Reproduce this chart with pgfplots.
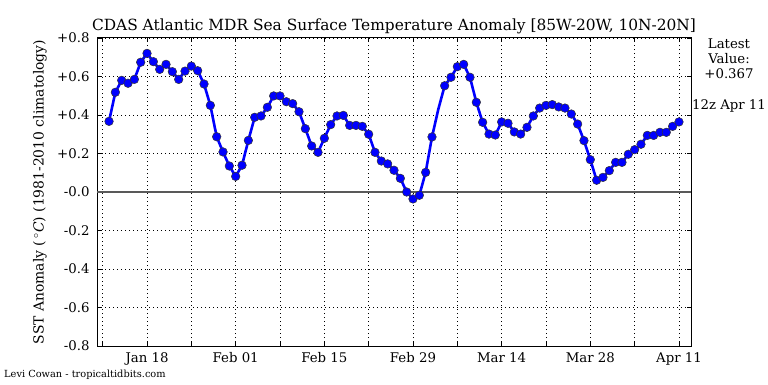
\documentclass[border=0pt]{standalone}
\usepackage{fontspec}
\setmainfont{DejaVu Serif}
\usepackage{pgfplots}
\pgfplotsset{compat=1.18}
\usepackage{pgfplotstable}

\pgfplotstableread{
day val
12 0.367
13 0.518
14 0.580
15 0.565
16 0.585
17 0.674
18 0.720
19 0.677
20 0.637
21 0.663
22 0.625
23 0.585
24 0.628
25 0.654
26 0.630
27 0.561
28 0.450
29 0.287
30 0.208
31 0.135
32 0.081
33 0.139
34 0.268
35 0.388
36 0.395
37 0.440
38 0.499
39 0.499
40 0.469
41 0.459
42 0.417
43 0.329
44 0.239
45 0.206
46 0.279
47 0.350
48 0.395
49 0.398
50 0.346
51 0.346
52 0.341
53 0.300
54 0.206
55 0.161
56 0.146
57 0.113
58 0.071
59 0.000
60 -0.036
61 -0.017
62 0.102
63 0.286
64 0.430
65 0.552
66 0.596
67 0.651
68 0.663
69 0.596
70 0.466
71 0.362
72 0.301
73 0.296
74 0.364
75 0.357
76 0.312
77 0.301
78 0.336
79 0.395
80 0.436
81 0.450
82 0.454
83 0.442
84 0.436
85 0.405
86 0.353
87 0.267
88 0.168
89 0.061
90 0.076
91 0.111
92 0.154
93 0.154
94 0.196
95 0.220
96 0.248
97 0.294
98 0.294
99 0.310
100 0.310
101 0.341
102 0.364
}\sstdata

\newcommand{\fs}{\fontsize{13.3}{16}\selectfont}

\begin{document}
\begin{tikzpicture}[x=1pt,y=1pt]
\path[use as bounding box] (0,0) rectangle (768,384);
\fill[white] (0,0) rectangle (768,384);
\begin{axis}[
  at={(97pt,38pt)}, anchor=south west,
  scale only axis, width=594pt, height=308pt,
  xmin=10.1, xmax=103.9, ymin=-0.8, ymax=0.8,
  xtick={18,32,46,60,74,88,102},
  xticklabels={Jan 18,Feb 01,Feb 15,Feb 29,Mar 14,Mar 28,Apr 11},
  minor xtick={11,25,39,53,67,81,95},
  ytick={-0.8,-0.6,-0.4,-0.2,0,0.2,0.4,0.6,0.8},
  yticklabels={-0.8,-0.6,-0.4,-0.2,-0.0,+0.2,+0.4,+0.6,+0.8},
  ticklabel style={font=\fs},
  xticklabel style={yshift=-3pt},
  yticklabel style={xshift=-4pt},
  grid=both,
  major grid style={black, line width=0.5pt, dash pattern=on 1pt off 3pt},
  minor grid style={black, line width=0.5pt, dash pattern=on 1pt off 3pt},
  tick align=inside,
  major tick length=4pt, minor tick length=4pt,
  tick style={black, line width=0.6pt},
  axis line style={black, line width=1pt},
  clip=false,
]
\draw[black!65, line width=1.3pt] (axis cs:10.1,0) -- (axis cs:103.9,0);
\addplot[blue, line width=2.6pt, no marks] table[x=day,y=val]{\sstdata};
\addplot[only marks, mark=*, mark size=4.3pt,
  mark options={fill=blue, draw=black!80, line width=0.5pt},
  skip coords between index={52}{53}] table[x=day,y=val]{\sstdata};
\end{axis}
\node[font=\fontsize{15.4}{18}\selectfont] at (394,358) {CDAS Atlantic MDR Sea Surface Temperature Anomaly [85W-20W, 10N-20N]};
\node[font=\fontsize{13.9}{16}\selectfont, rotate=90] at (40,192) {SST Anomaly (\,$^\circ$\textit{C}) (1981-2010 climatology)};
\node[font=\fs, align=center, inner sep=0pt] at (729,325) {Latest\\[-1pt]Value:\\[-1pt]+0.367};
\node[font=\fs, inner sep=0pt] at (729,278) {12z Apr 11};
\node[font=\fontsize{9.8}{12}\selectfont, anchor=west, inner sep=0pt] at (4,9) {Levi Cowan - tropicaltidbits.com};
\end{tikzpicture}
\end{document}
